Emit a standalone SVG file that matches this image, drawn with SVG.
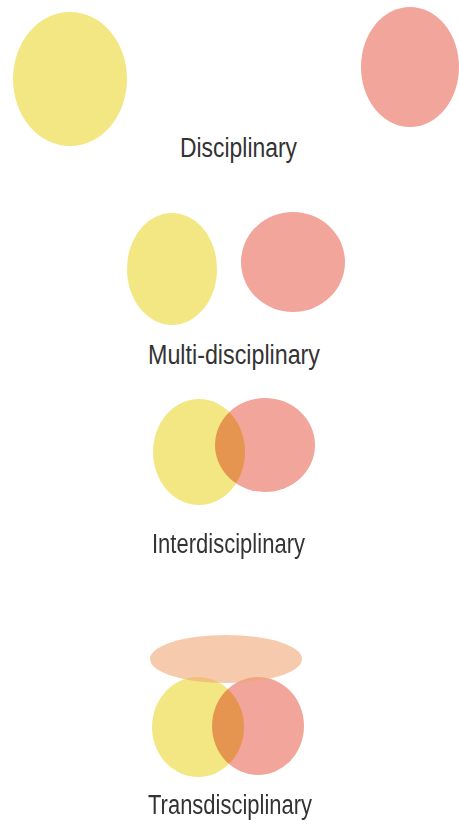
<svg xmlns="http://www.w3.org/2000/svg" width="459" height="827" viewBox="0 0 459 827">
  <style>
    .yellow { fill: #f3e784; }
    .red { fill: #f2a59a; }
    .blend { mix-blend-mode: multiply; }
    .peach { fill: #f0a774; opacity: 0.6; }
    .label { font-family: "Liberation Sans", "DejaVu Sans", sans-serif; font-size: 27px; fill: #333333; }
  </style>
  <rect width="459" height="827" fill="#ffffff"/>

  <g id="disciplinary">
    <ellipse class="yellow" cx="70" cy="79" rx="57" ry="67"/>
    <ellipse class="red" cx="410" cy="67" rx="49" ry="60"/>
    <text class="label" x="180" y="157" textLength="117" lengthAdjust="spacingAndGlyphs">Disciplinary</text>
  </g>

  <g id="multi-disciplinary">
    <ellipse class="yellow" cx="172" cy="269" rx="45" ry="56"/>
    <ellipse class="red" cx="293" cy="262" rx="52" ry="50"/>
    <text class="label" x="148" y="364" textLength="172" lengthAdjust="spacingAndGlyphs">Multi-disciplinary</text>
  </g>

  <g id="interdisciplinary" style="isolation:isolate">
    <ellipse class="yellow" cx="199" cy="452" rx="46" ry="53"/>
    <ellipse class="red blend" cx="265" cy="445" rx="50" ry="47"/>
    <text class="label" x="152" y="553" textLength="153" lengthAdjust="spacingAndGlyphs">Interdisciplinary</text>
  </g>

  <g id="transdisciplinary" style="isolation:isolate">
    <ellipse class="yellow" cx="198" cy="727" rx="46" ry="50"/>
    <ellipse class="red blend" cx="258" cy="726" rx="46" ry="49"/>
    <ellipse class="peach" cx="226" cy="659" rx="76" ry="24"/>
    <text class="label" x="148" y="814" textLength="164" lengthAdjust="spacingAndGlyphs">Transdisciplinary</text>
  </g>

  <g id="connectors"></g>
</svg>
